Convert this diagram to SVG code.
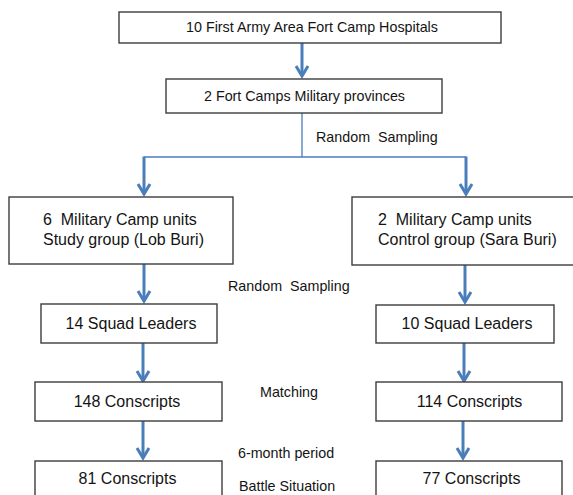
<svg xmlns="http://www.w3.org/2000/svg" width="573" height="495" viewBox="0 0 573 495" xml:space="preserve">
<style>
.box{fill:#ffffff;stroke:#3c3c3c;stroke-width:1.4}
.t{font-family:"Liberation Sans",Arial,sans-serif;fill:#141414;white-space:pre}
.big{font-size:16px}
.mid{font-size:14.3px}
.c{text-anchor:middle}
.arr{fill:none;stroke:#4a7ebb;stroke-width:3;marker-end:url(#ah)}
.thin{fill:none;stroke:#4a7ebb;stroke-width:1.3}
</style>
<defs>
<marker id="ah" markerUnits="userSpaceOnUse" markerWidth="20" markerHeight="20" viewBox="-12 -10 16 20" refX="0" refY="0" orient="auto" overflow="visible">
<path d="M-10,-6 L0,0 L-10,6" fill="none" stroke="#4a7ebb" stroke-width="3" stroke-linejoin="miter"/>
</marker>
</defs>
<rect width="573" height="495" fill="#ffffff"/>
<g id="connectors">
<path class="arr" d="M302,43 V76"/>
<path class="thin" d="M302,113 V157 M144,157 H466"/>
<path class="arr" d="M144,156.5 V194"/>
<path class="arr" d="M466,156.5 V194"/>
<path class="arr" d="M144,264 V301"/>
<path class="arr" d="M465,265 V302"/>
<path class="arr" d="M143,343 V381"/>
<path class="arr" d="M464,343 V381"/>
<path class="arr" d="M143,421 V458"/>
<path class="arr" d="M463,421 V458"/>
</g>
<g id="labels">
<text class="t mid" x="316" y="142">Random  Sampling</text>
<text class="t mid" x="228" y="291">Random  Sampling</text>
<text class="t mid" x="260" y="397">Matching</text>
<text class="t mid" x="238" y="458">6-month period</text>
<text class="t mid" x="239" y="491">Battle Situation</text>
</g>
<g id="hospitals">
<rect class="box" x="119" y="12" width="382" height="31"/>
<text class="t mid c" x="312" y="32">10 First Army Area Fort Camp Hospitals</text>
</g>
<g id="provinces">
<rect class="box" x="166" y="79" width="276" height="34"/>
<text class="t mid c" x="304.5" y="101">2 Fort Camps Military provinces</text>
</g>
<g id="study-group">
<rect class="box" x="9" y="197" width="224" height="67"/>
<text class="t big" x="43" y="225">6  Military Camp units</text>
<text class="t big" x="43" y="245">Study group (Lob Buri)</text>
</g>
<g id="control-group">
<rect class="box" x="352" y="197" width="230" height="68"/>
<text class="t big" x="378" y="225">2  Military Camp units</text>
<text class="t big" x="378" y="245">Control group (Sara Buri)</text>
</g>
<g id="squad-study">
<rect class="box" x="41" y="304" width="176" height="39"/>
<text class="t big c" x="131" y="329">14 Squad Leaders</text>
</g>
<g id="squad-control">
<rect class="box" x="376" y="305" width="178" height="38"/>
<text class="t big c" x="467" y="329">10 Squad Leaders</text>
</g>
<g id="conscripts-148">
<rect class="box" x="35" y="382" width="187" height="39"/>
<text class="t big c" x="127" y="407">148 Conscripts</text>
</g>
<g id="conscripts-114">
<rect class="box" x="376" y="382" width="186" height="39"/>
<text class="t big c" x="469.5" y="407">114 Conscripts</text>
</g>
<g id="conscripts-81">
<rect class="box" x="35" y="461" width="187" height="44"/>
<text class="t big c" x="127.5" y="484">81 Conscripts</text>
</g>
<g id="conscripts-77">
<rect class="box" x="376" y="461" width="186" height="44"/>
<text class="t big c" x="471.5" y="484">77 Conscripts</text>
</g>
</svg>
